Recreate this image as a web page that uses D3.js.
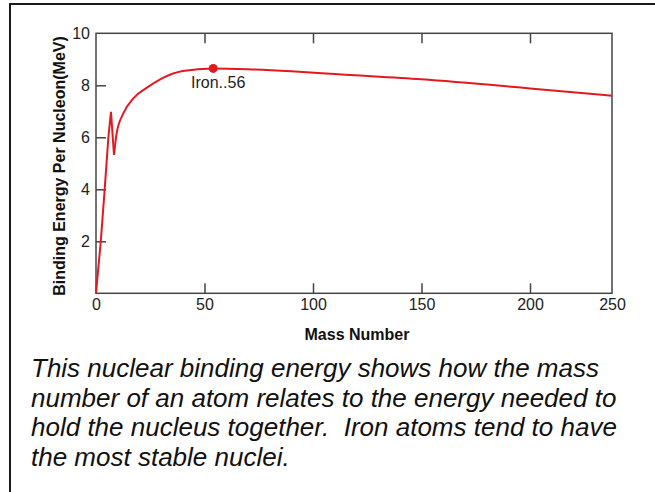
<!DOCTYPE html>
<html>
<head>
<meta charset="utf-8">
<script src="https://cdn.jsdelivr.net/npm/d3@7"></script>
<style>
  html, body { margin: 0; padding: 0; background: #fff; }
  svg { display: block; font-family: "Liberation Sans", Arial, sans-serif; }
</style>
</head>
<body>
<svg id="chart" width="655" height="492"></svg>
<script>
// ---- data ----
const massNumber = [0, 2.2, 4, 5.7, 6.9, 8.3, 9.5, 12.6, 17.2, 23.3, 30, 40, 54, 70, 90, 110, 150, 200, 250];
const bindingEnergy = [0, 2, 4, 6, 6.98, 5.32, 6.15, 6.92, 7.5, 7.9, 8.25, 8.55, 8.65, 8.62, 8.54, 8.43, 8.23, 7.88, 7.6];
const xTicks = [0, 50, 100, 150, 200, 250];
const yTicks = [2, 4, 6, 8, 10];
const ironPoint = [54, 8.65];
const ironLabel = "Iron..56";
const xTitle = "Mass Number";
const yTitle = "Binding Energy Per Nucleon(MeV)";
const caption = [
  "This nuclear binding energy shows how the mass",
  "number of an atom relates to the energy needed to",
  "hold the nucleus together.  Iron atoms tend to have",
  "the most stable nuclei."
];

const svg = d3.select("#chart");
const pLeft = 96, pRight = 612, pTop = 33.3, pBottom = 293.3;
const red = "#e2191f";
const axisColor = "#444";

// outer frame (extends beyond the right/bottom edges like the reference)
svg.append("rect").attr("x", 10).attr("y", 4).attr("width", 700).attr("height", 600)
  .attr("fill", "none").attr("stroke", "#1a1a1a").attr("stroke-width", 2);

const x = d3.scaleLinear().domain([0, 200, 250]).range([pLeft, 530, pRight]);
const y = d3.scaleLinear().domain([0, 10]).range([pBottom, pTop]);

// axes
const gx = svg.append("g").attr("transform", `translate(0,${pBottom})`)
  .call(d3.axisBottom(x).tickValues(xTicks).tickSizeInner(-10).tickSizeOuter(0).tickPadding(5));
const gxt = svg.append("g").attr("transform", `translate(0,${pTop})`)
  .call(d3.axisTop(x).tickValues(xTicks.slice(1, -1)).tickSizeInner(-10).tickSizeOuter(0).tickFormat(""));
const gy = svg.append("g").attr("transform", `translate(${pLeft},0)`)
  .call(d3.axisLeft(y).tickValues(yTicks).tickSizeInner(-10).tickSizeOuter(0).tickPadding(6));

[gx, gxt, gy].forEach(g => {
  g.select(".domain").remove();
  g.attr("font-size", null).attr("font-family", null);
  g.selectAll(".tick line").attr("stroke", axisColor).attr("stroke-width", 1.5);
  g.selectAll(".tick text").attr("fill", "#222").style("font-size", "16px")
    .style("font-family", '"Liberation Sans", Arial, sans-serif');
});
gx.selectAll(".tick").filter(d => d === 0 || d === 250).select("line").remove();
gy.selectAll(".tick").filter(d => d === 10).select("line").remove();

// plot frame
svg.append("rect").attr("x", pLeft).attr("y", pTop).attr("width", pRight - pLeft).attr("height", pBottom - pTop)
  .attr("fill", "none").attr("stroke", axisColor).attr("stroke-width", 1.5);

// curve: sharp rise/kink part linear, then smooth
const pts = massNumber.map((m, i) => [m, bindingEnergy[i]]);
const kink = 5;
const lineLin = d3.line().x(d => x(d[0])).y(d => y(d[1])).curve(d3.curveLinear);
const lineSmooth = d3.line().x(d => x(d[0])).y(d => y(d[1])).curve(d3.curveMonotoneX);
svg.append("path").attr("d", lineLin(pts.slice(0, kink + 1)))
  .attr("fill", "none").attr("stroke", red).attr("stroke-width", 2).attr("stroke-linejoin", "miter");
svg.append("path").attr("d", lineSmooth(pts.slice(kink)))
  .attr("fill", "none").attr("stroke", red).attr("stroke-width", 2);

// iron marker
svg.append("circle").attr("cx", x(ironPoint[0])).attr("cy", y(ironPoint[1])).attr("r", 4.5).attr("fill", red);
svg.append("text").attr("x", x(ironPoint[0]) + 5).attr("y", y(ironPoint[1]) + 20)
  .attr("text-anchor", "middle").style("font-size", "16px").attr("fill", "#222").text(ironLabel);

// titles
svg.append("text").attr("x", 357).attr("y", 340).attr("text-anchor", "middle")
  .style("font-size", "16px").style("font-weight", "bold").attr("fill", "#111").text(xTitle);
svg.append("text").attr("transform", `translate(65,166) rotate(-90)`).attr("text-anchor", "middle")
  .style("font-size", "16px").style("font-weight", "bold").attr("fill", "#111").text(yTitle);

// caption
const cap = svg.append("text").attr("x", 31).style("font-size", "26px").style("font-style", "italic")
  .style("white-space", "pre").attr("fill", "#111");
caption.forEach((line, i) => {
  cap.append("tspan").attr("x", 31).attr("y", 377 + i * 29.5).text(line);
});
</script>
</body>
</html>
